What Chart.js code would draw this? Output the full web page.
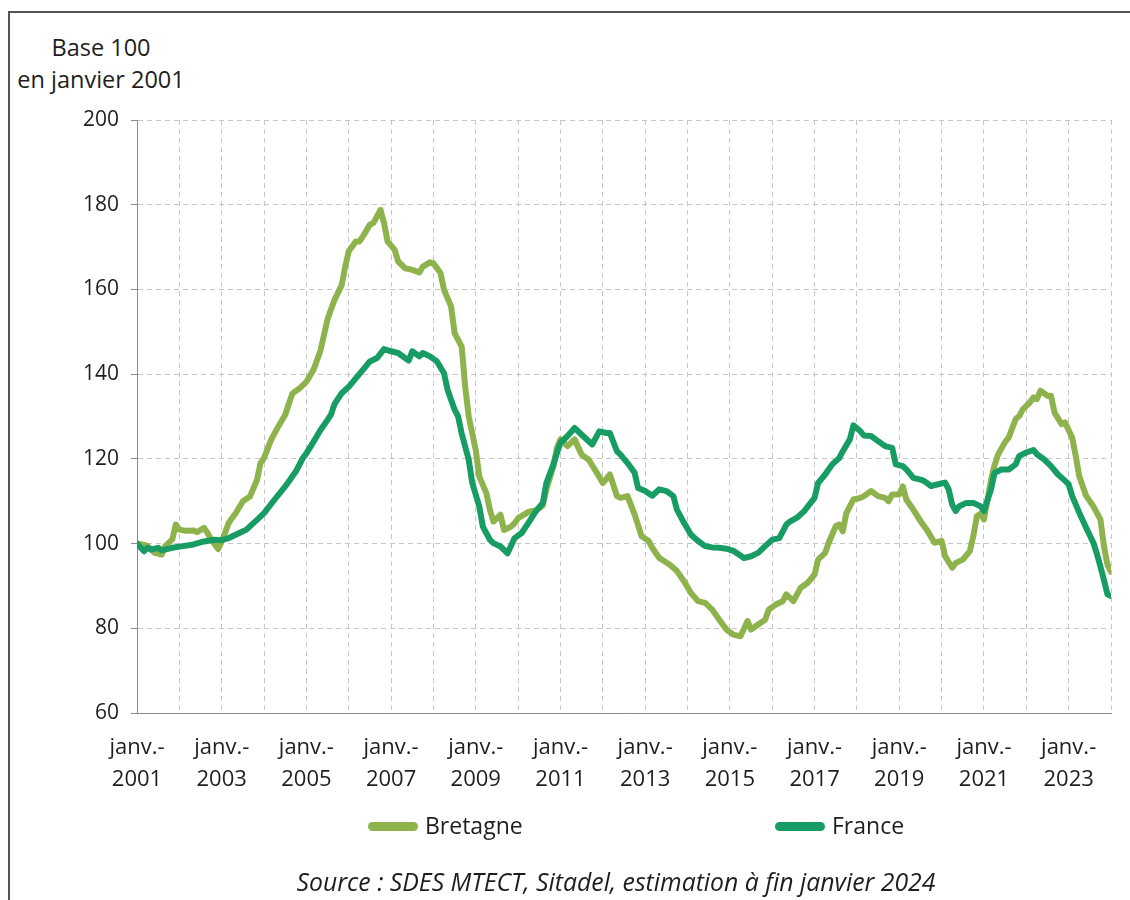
<!DOCTYPE html>
<html lang="fr">
<head>
<meta charset="utf-8">
<title>Bretagne / France - base 100 en janvier 2001</title>
<script src="https://cdn.jsdelivr.net/npm/chart.js@4.4.1/dist/chart.umd.min.js"></script>
<style>
	html, body { margin: 0; padding: 0; background: #fff; }
	body { width: 1130px; height: 900px; position: relative; overflow: hidden; font-family: "Open Sans", sans-serif; color: #1e1e1e; }
	.frame { position: absolute; left: 8px; top: 11px; width: 1200px; height: 1000px; border-left: 2px solid #555; border-top: 2px solid #555; }
	#chart { position: absolute; left: 0; top: 0; }
	.unit { position: absolute; left: 0; width: 202px; top: 31px; text-align: center; font-size: 23.5px; line-height: 32px; }
	.legend { position: absolute; top: 808px; left: 0; width: 1130px; height: 34px; font-size: 23px; }
	.legend .item { position: absolute; top: 0; height: 34px; line-height: 34px; white-space: nowrap; }
	.legend .swatch { display: inline-block; width: 50px; height: 9px; border-radius: 5px; vertical-align: middle; margin-right: 7px; position: relative; top: -1px; }
	.source { position: absolute; left: 0; width: 1232px; top: 863px; text-align: center; font-size: 24.8px; font-style: italic; line-height: 36px; }
</style>
</head>
<body>
<div class="frame"></div>
<div class="unit">Base 100<br>en janvier 2001</div>
<canvas id="chart" width="1130" height="900"></canvas>
<div class="legend" id="legend"></div>
<div class="source">Source : SDES MTECT, Sitadel, estimation à fin janvier 2024</div>
<script>
	// months counted from janvier 2001 (0) to janvier 2024 (276)
	var startYear = 2001;
	var lastMonth = 276;
	var yTicks = { min: 60, max: 200, step: 20 };

	var bretagneMonths = [0,2,3,5,7,8,10,11,12,14,16,17,19,20,21,23,24,26,28,30,32,34,35,36,38,40,42,44,46,48,50,52,54,56,58,59,60,62,63,64,66,67,69,70,71,73,74,76,78,80,81,83,84,86,87,89,90,92,93,94,96,97,99,100,101,103,104,106,107,108,110,111,113,115,116,118,119,120,122,124,126,128,130,132,134,136,137,139,141,143,145,146,148,151,153,155,157,159,161,163,165,167,169,171,173,174,176,178,179,181,183,184,186,188,190,192,193,195,196,198,199,200,201,203,205,206,208,210,212,213,214,216,217,218,220,222,224,226,228,229,231,232,234,236,237,238,239,240,242,243,244,246,247,249,250,251,253,254,255,256,258,259,260,262,263,265,266,267,269,271,273,274,275,276];
	var bretagneValues = [100,99.7,99.4,97.8,97.4,99.4,101,104.5,103.3,103,103.1,102.7,103.7,102.5,101,98.7,100.5,104.9,107.2,110,111.1,115,119,120.2,124.5,127.6,130.4,135.4,136.6,138.2,141,145.6,153,157.6,161,165.4,169,171.3,171.3,172.5,175.3,175.7,178.8,175.7,171.3,169.4,166.6,165,164.6,164,165.4,166.4,166.2,163.9,159.9,156,149.7,146.5,137,130,122,115.8,111.9,108,105.2,106.8,103.2,104,104.8,106,107,107.5,107.8,109,112.8,118.3,122.6,124.6,123,124.6,121,119.8,117.1,114.3,116.3,111.2,110.8,111.2,106.9,101.7,100.6,99,96.6,95,93.5,91.1,88.3,86.4,86,84.4,82,79.7,78.5,78.1,81.7,79.7,80.9,82,84.4,85.6,86.4,88,86.4,89.5,90.7,92.7,96.2,97.8,100.2,104.1,104.5,102.9,107.2,110.4,110.8,111.2,112.4,111.2,110.8,110,111.6,111.6,113.5,110.4,108,105.3,103,100.2,100.6,97,94.3,95.4,96.2,98.2,101.8,106.5,107,105.7,115,118.5,121,124,125,129.4,130.1,131.7,133.3,134.5,134.1,136.1,134.9,134.9,130.9,128.2,128.6,125,120.7,115.9,111.2,108.8,105.7,99.4,95,93.3];

	var franceMonths = [0,2,3,4,6,7,10,13,16,19,22,24,26,29,31,34,36,39,42,45,47,48,50,52,54,55,56,58,60,62,64,66,68,70,72,74,77,78,80,81,83,85,87,88,90,91,92,94,95,97,98,100,101,103,105,107,109,111,113,115,116,118,119,120,122,124,126,129,131,133,134,136,137,139,141,142,144,146,148,150,152,153,155,157,159,161,163,165,167,169,172,174,176,178,180,182,184,185,187,189,192,193,195,197,199,200,202,203,205,206,208,210,212,214,215,217,218,220,222,223,225,227,229,230,231,232,233,235,237,239,240,242,243,245,247,249,250,252,254,255,257,259,261,263,264,265,267,269,271,272,273,274,275,276];
	var franceValues = [100,98.2,99,98.6,99,98.4,99,99.4,99.8,100.5,100.9,100.8,101.3,102.5,103.3,105.6,107.2,110.4,113.5,117,120.2,121.3,124,126.8,129.2,130.5,133,135.5,137,139,141,143,143.8,145.9,145.4,145,143.2,145.4,144.2,145,144.2,143,140.2,136.3,131.6,130,126,119.8,114.3,108.7,104,100.9,100.1,99.3,97.7,101.3,102.5,105,107.6,109.6,114.3,118.7,121.4,123.8,125.4,127.3,125.7,123.4,126.5,126.1,126.1,121.8,121,119,116.7,113.1,112.4,111.3,112.8,112.4,111.2,108,104.9,102.1,100.6,99.4,99.1,99,98.8,98.3,96.6,97,97.8,99.4,100.9,101.3,104.5,105.2,106.1,107.6,110.8,114.3,116.3,118.7,120.2,121.8,124.6,127.9,126.5,125.5,125.4,124.2,123,122.6,118.7,118.3,117.5,115.5,115.1,114.8,113.6,114,114.4,112.8,109.2,107.7,108.8,109.6,109.6,108.8,107.7,112.8,116.7,117.5,117.5,118.7,120.7,121.5,122.1,121.1,119.9,118.3,116.3,114.8,114,111.2,107.3,103.7,100.2,97.6,94.6,91.4,88,87.6];

	var seriesNames = ['Bretagne', 'France'];
	var seriesColors = ['#8fb34c', '#179c63'];

	var fontFamily = '"Open Sans", sans-serif';
	var textColor = '#1e1e1e';
	var gridColor = '#c6c6c6';
	var axisColor = '#8a8a8a';

	function toPoints(months, values) {
		return months.map(function(m, i) {
			return { x: m, y: values[i] };
		});
	}

	function tickLabel(value) {
		var m = Math.round(value);
		if (m % 24 !== 0) {
			return '';
		}
		return ['janv.-', String(startYear + m / 12)];
	}

	var datasets = [
		{
			label: seriesNames[0],
			data: toPoints(bretagneMonths, bretagneValues),
			borderColor: seriesColors[0],
			backgroundColor: seriesColors[0],
			order: 1
		},
		{
			label: seriesNames[1],
			data: toPoints(franceMonths, franceValues),
			borderColor: seriesColors[1],
			backgroundColor: seriesColors[1],
			order: 0
		}
	];
	datasets.forEach(function(d) {
		d.borderWidth = 6;
		d.pointRadius = 0;
		d.pointHoverRadius = 0;
		d.tension = 0;
		d.borderJoinStyle = 'round';
		d.borderCapStyle = 'round';
		d.fill = false;
	});

	var chart = new Chart(document.getElementById('chart'), {
		type: 'line',
		data: { datasets: datasets },
		options: {
			responsive: false,
			animation: false,
			devicePixelRatio: 1,
			layout: { padding: { left: 72, right: 15, top: 120, bottom: 97 } },
			plugins: {
				legend: { display: false },
				tooltip: { enabled: false },
				title: { display: false }
			},
			scales: {
				x: {
					type: 'linear',
					min: 0,
					max: lastMonth,
					afterFit: function(scale) { scale.height = 90; },
					ticks: {
						stepSize: 12,
						autoSkip: false,
						maxRotation: 0,
						minRotation: 0,
						padding: 19,
						color: textColor,
						font: { family: fontFamily, size: 22, lineHeight: 1.45 },
						callback: tickLabel
					},
					grid: { color: gridColor, lineWidth: 1, drawTicks: false },
					border: { display: true, color: axisColor, width: 1, dash: [5, 4] }
				},
				y: {
					min: yTicks.min,
					max: yTicks.max,
					afterFit: function(scale) { scale.width = 65; },
					ticks: {
						stepSize: yTicks.step,
						padding: 12,
						color: textColor,
						font: { family: fontFamily, size: 21 }
					},
					grid: { color: gridColor, lineWidth: 1, drawTicks: true, tickLength: 6, tickColor: axisColor, tickBorderDash: [] },
					border: { display: true, color: axisColor, width: 1, dash: [5, 4] }
				}
			}
		}
	});

	// legend built from the chart datasets
	var legendLeft = [368, 775];
	var legend = document.getElementById('legend');
	chart.data.datasets.forEach(function(d, i) {
		var item = document.createElement('div');
		item.className = 'item';
		item.style.left = legendLeft[i] + 'px';
		var sw = document.createElement('span');
		sw.className = 'swatch';
		sw.style.background = d.borderColor;
		item.appendChild(sw);
		item.appendChild(document.createTextNode(d.label));
		legend.appendChild(item);
	});
</script>
</body>
</html>
